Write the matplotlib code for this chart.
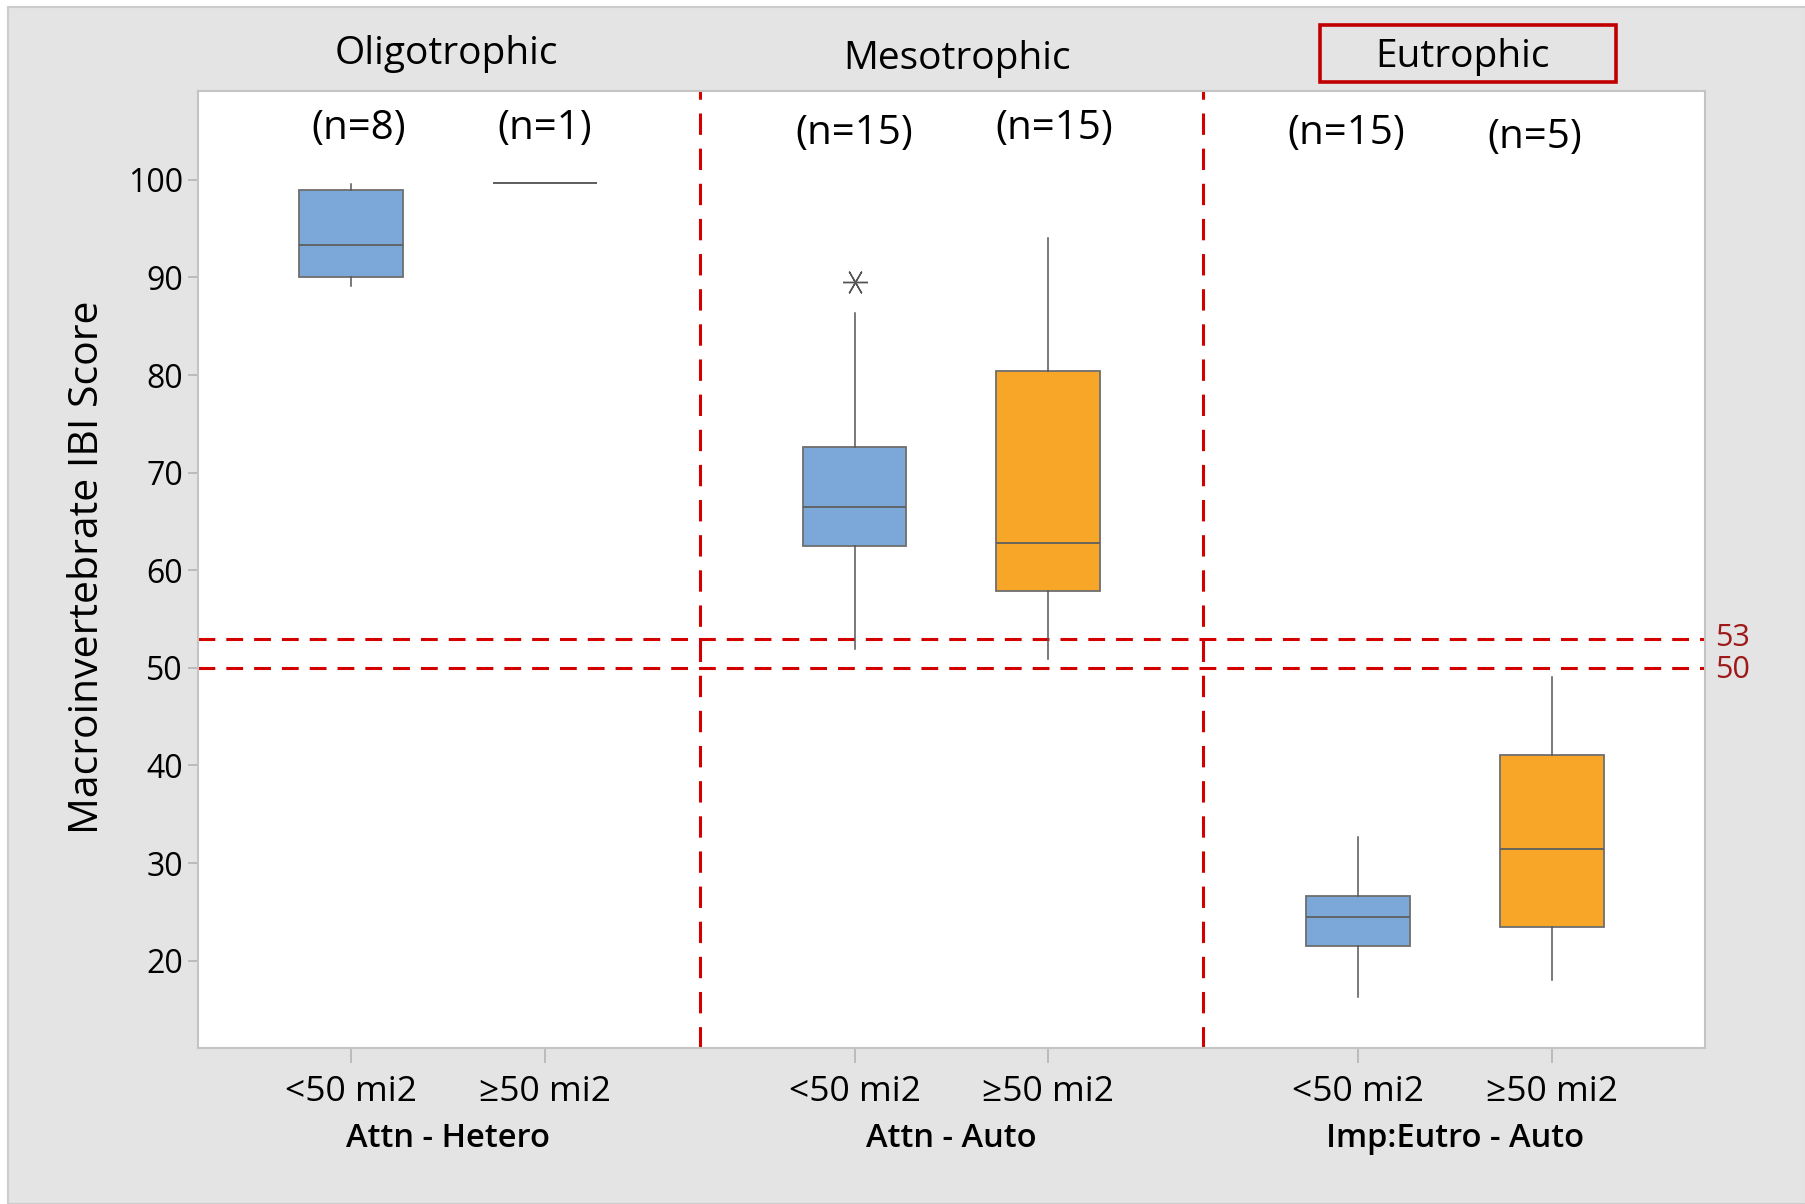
import numpy as np
import matplotlib
matplotlib.use("Agg")
import matplotlib.pyplot as plt
from matplotlib.patches import Rectangle
import matplotlib.transforms as mtransforms

plt.rcParams['font.family'] = ['Open Sans', 'DejaVu Sans']

# data
sizes = ["<50 mi2", "\u226550 mi2", "<50 mi2", "\u226550 mi2", "<50 mi2", "\u226550 mi2"]
groups = ["Attn - Hetero", "Attn - Auto", "Imp:Eutro - Auto"]
states = ["Oligotrophic", "Mesotrophic", "Eutrophic"]
n_labels = ["(n=8)", "(n=1)", "(n=15)", "(n=15)", "(n=15)", "(n=5)"]
n_y = [105.25, 105.25, 104.75, 105.25, 104.75, 104.35]
medians = [93.3, 99.7, 66.5, 62.8, 24.5, 31.4]
q1 = [90.0, 99.7, 62.5, 57.9, 21.5, 23.4]
q3 = [99.0, 99.7, 72.6, 80.4, 26.6, 41.1]
whislo = [89.1, 99.7, 51.9, 50.9, 16.3, 18.0]
whishi = [99.6, 99.7, 86.4, 94.0, 32.7, 49.1]
outliers = [[], [], [89.5], [], [], []]
thresholds = [53, 50]

positions = [0, 1, 2.6, 3.6, 5.2, 6.2]
n_x = [0.04, 1.0, 2.6, 3.63, 5.14, 6.11]
state_x = [0.49, 3.13, 5.74]
state_y = [1.039, 1.033, 1.0355]
dividers = [1.8, 4.4]
blue = '#7ca7d9'
orange = '#f8a628'
fills = [blue, 'none', blue, orange, blue, orange]

fig = plt.figure(figsize=(18.06, 12.04), dpi=100, facecolor='white')
fig.patches.append(Rectangle((0.0045, 0.0), 0.9955, 0.9945, transform=fig.transFigure,
                             facecolor='#e4e4e4', edgecolor='#cccccc', lw=1.5, zorder=-10))

ax = fig.add_axes([0.1097, 0.1292, 0.8342, 0.7952])
ax.set_facecolor('white')

stats = []
for i in range(len(positions)):
    stats.append(dict(med=medians[i], q1=q1[i], q3=q3[i], whislo=whislo[i],
                      whishi=whishi[i], fliers=outliers[i]))

bp = ax.bxp(stats, positions=positions, widths=0.535, patch_artist=True,
            showcaps=False,
            boxprops=dict(edgecolor='#6e6e6e', linewidth=1.3),
            medianprops=dict(color='#5f5f5f', linewidth=1.3),
            whiskerprops=dict(color='#555555', linewidth=1.1),
            flierprops=dict(marker=(6, 2, 90), markersize=18, markeredgecolor='#555555',
                            markeredgewidth=1.0, linestyle='none'))
for patch, fc in zip(bp['boxes'], fills):
    patch.set_facecolor(fc)

for t in thresholds:
    ax.axhline(t, color='#d40000', lw=2.2, dashes=(5.5, 3.6), zorder=0.5)
for d in dividers:
    ax.axvline(d, color='#d40000', lw=2.2, dashes=(7, 4.5), zorder=0.5)

ax.set_xlim(-0.79, 6.99)
ax.set_ylim(11.0, 109.1)
ax.set_yticks(np.arange(20, 101, 10))
ax.set_xticks(positions)
ax.set_xticklabels(sizes, fontsize=25.5)
ax.tick_params(axis='x', length=11, color='#b5b5b5', width=1.2, pad=8)
ax.tick_params(axis='y', length=7, color='#b5b5b5', width=1.2, pad=4, labelsize=23)
for sp in ax.spines.values():
    sp.set_color('#c4c4c4')
    sp.set_linewidth(1.5)

for x, lab, y in zip(n_x, n_labels, n_y):
    ax.text(x, y, lab, ha='center', va='center', fontsize=29)

trans_x = mtransforms.blended_transform_factory(ax.transData, ax.transAxes)
centers = [(positions[0] + positions[1]) / 2, (positions[2] + positions[3]) / 2,
           (positions[4] + positions[5]) / 2]
for c, g in zip(centers, groups):
    ax.text(c, -0.094, g, transform=trans_x, ha='center', va='center',
            fontsize=23.5, fontweight='semibold')

for c, s, y in zip(state_x, states, state_y):
    ax.text(c, y, s, transform=trans_x, ha='center', va='center', fontsize=28)

# red frame around Eutrophic
fig.patches.append(Rectangle((0.7309, 0.932), 0.1639, 0.047, transform=fig.transFigure,
                             facecolor='none', edgecolor='#c00000', lw=2.6))

trans_y = mtransforms.blended_transform_factory(ax.transAxes, ax.transData)
ax.text(1.007, thresholds[0] + 0.05, str(thresholds[0]), transform=trans_y, ha='left',
        va='center', fontsize=22, color='#9e1a1a')
ax.text(1.007, thresholds[1] - 0.2, str(thresholds[1]), transform=trans_y, ha='left',
        va='center', fontsize=22, color='#9e1a1a')

fig.text(0.0485, 0.529, "Macroinvertebrate IBI Score", rotation=90, ha='center',
         va='center', fontsize=29.5)

fig.savefig('out.png', dpi=100, facecolor=fig.get_facecolor())
